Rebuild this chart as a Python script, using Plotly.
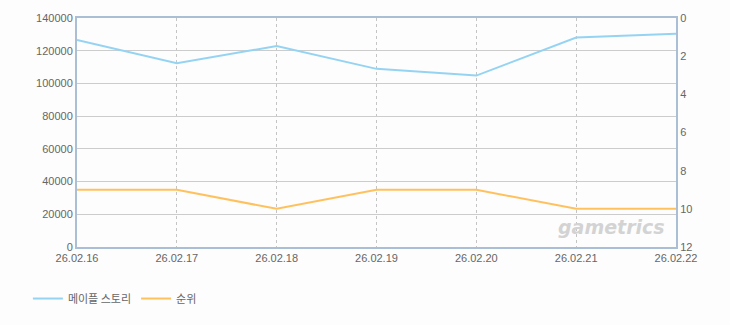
import plotly.graph_objects as go

dates = ["26.02.16", "26.02.17", "26.02.18", "26.02.19", "26.02.20", "26.02.21", "26.02.22"]
users = [126500, 112300, 122900, 108900, 104800, 128100, 130300]
rank = [9, 9, 10, 9, 9, 10, 10]

fig = go.Figure()
fig.add_trace(go.Scatter(x=list(range(len(dates))), y=users, name="메이플 스토리", mode="lines",
                         line=dict(color="#95d3f3", width=2), yaxis="y"))
fig.add_trace(go.Scatter(x=list(range(len(dates))), y=rank, name="순위", mode="lines",
                         line=dict(color="#ffc15e", width=2), yaxis="y2"))

axis_font = dict(family="Liberation Sans, Arial", size=11, color="#666666")
fig.update_layout(
    width=730, height=325,
    margin=dict(l=77, r=54, t=16, b=77),
    paper_bgcolor="#fdfdfd", plot_bgcolor="#fdfdfd",
    showlegend=True,
    legend=dict(orientation="h", x=-0.082, y=-0.225, xanchor="left", yanchor="middle",
                font=dict(family="Noto Sans CJK KR", size=11, color="#666666"),
                itemwidth=30, bgcolor="rgba(0,0,0,0)"),
    xaxis=dict(range=[0, 6], tickmode="array", tickvals=list(range(len(dates))), ticktext=dates,
               showgrid=True, gridcolor="#c4c4c4", griddash="3px,3px", gridwidth=1,
               showline=True, linecolor="#aabfd6", linewidth=2, mirror=True,
               ticks="", tickfont=axis_font, zeroline=False),
    yaxis=dict(range=[0, 140000], dtick=20000, tickformat="d",
               showgrid=True, gridcolor="#cccccc", gridwidth=1,
               showline=True, linecolor="#aabfd6", linewidth=2,
               ticks="", tickfont=axis_font, zeroline=False),
    yaxis2=dict(range=[12, 0], dtick=2, overlaying="y", side="right",
                showgrid=False, showline=True, linecolor="#aabfd6", linewidth=2,
                ticks="", tickfont=axis_font, zeroline=False),
    annotations=[dict(text="<b><i>gametrics</i></b>", x=0.985, y=0.03, xref="paper", yref="paper",
                      xanchor="right", yanchor="bottom", showarrow=False,
                      font=dict(family="DejaVu Sans", size=19, color="#d3d3d3"))],
)

fig.write_html("out.html")
